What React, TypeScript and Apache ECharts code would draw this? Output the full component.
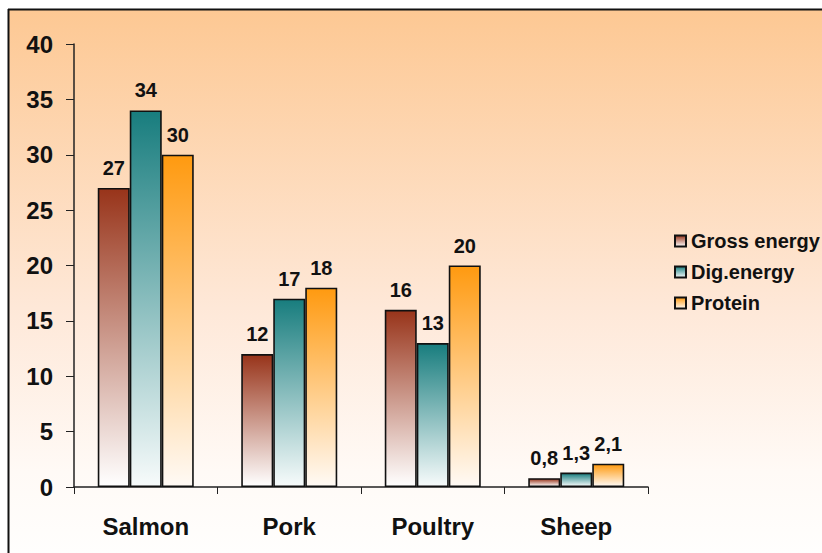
import React, { useEffect, useRef } from "react";
import * as echarts from "echarts";

const categories = ["Salmon", "Pork", "Poultry", "Sheep"];
const grossEnergy = [27, 12, 16, 0.8];
const digEnergy = [34, 17, 13, 1.3];
const protein = [30, 18, 20, 2.1];
const seriesNames = ["Gross energy", "Dig.energy", "Protein"];
const topColors = ["#98341a", "#187d7e", "#ff9a10"];
const bottomColors = ["#ffffff", "#f7fbfb", "#fffaf5"];

const FONT = "'Liberation Sans', Arial, sans-serif";

export default function App() {
  const ref = useRef<HTMLDivElement>(null);
  useEffect(() => {
    if (!ref.current) return;
    const chart = echarts.init(ref.current, undefined, { renderer: "svg" });
    const data = [grossEnergy, digEnergy, protein];
    const series = data.map((vals, i) => ({
      name: seriesNames[i],
      type: "bar",
      data: vals,
      barWidth: 32,
      barGap: "0%",
      itemStyle: {
        color: new echarts.graphic.LinearGradient(0, 0, 0, 1, [
          { offset: 0, color: topColors[i] },
          { offset: 1, color: bottomColors[i] },
        ]),
        borderColor: "#111",
        borderWidth: 1.6,
      },
      label: {
        show: true,
        position: "top",
        distance: 10,
        fontFamily: FONT,
        fontWeight: "bold",
        fontSize: 20,
        color: "#111",
        formatter: (p: any) => String(p.value).replace(".", ","),
      },
    }));
    chart.setOption({
      animation: false,
      textStyle: { fontFamily: FONT },
      graphic: [
        {
          type: "rect",
          z: -10,
          shape: { x: 8, y: 9, width: 814, height: 544 },
          style: {
            fill: new echarts.graphic.LinearGradient(0, 0, 0, 1, [
              { offset: 0, color: "#fdc893" },
              { offset: 0.55, color: "#fee8d8" },
              { offset: 0.85, color: "#fffaf6" },
              { offset: 1, color: "#fffefd" },
            ]),
          },
        },
        {
          type: "line",
          z: -9,
          shape: { x1: 8, y1: 9.5, x2: 822, y2: 9.5 },
          style: { stroke: "#111", lineWidth: 2 },
        },
        {
          type: "line",
          z: -9,
          shape: { x1: 8.5, y1: 9, x2: 8.5, y2: 553 },
          style: { stroke: "#111", lineWidth: 2 },
        },
      ],
      legend: {
        orient: "vertical",
        left: 669,
        top: 226,
        itemWidth: 11,
        itemHeight: 11,
        itemGap: 11,
        icon: "rect",
        textStyle: {
          fontFamily: FONT,
          fontWeight: "bold",
          fontSize: 20,
          color: "#111",
        },
        data: seriesNames,
      },
      grid: { left: 74, top: 44, right: 174, bottom: 66, containLabel: false },
      xAxis: {
        type: "category",
        data: categories,
        axisLine: { show: true, lineStyle: { color: "#222", width: 1.5 } },
        axisTick: { show: true, length: 7, alignWithLabel: false, lineStyle: { color: "#222" } },
        axisLabel: {
          margin: 27,
          fontFamily: FONT,
          fontWeight: "bold",
          fontSize: 24,
          color: "#111",
        },
        splitLine: { show: false },
      },
      yAxis: {
        type: "value",
        min: 0,
        max: 40,
        interval: 5,
        axisLine: { show: true, lineStyle: { color: "#222", width: 1.5 } },
        axisTick: { show: true, length: 8, lineStyle: { color: "#222" } },
        axisLabel: {
          margin: 21,
          fontFamily: FONT,
          fontWeight: "bold",
          fontSize: 24,
          color: "#111",
        },
        splitLine: { show: false },
      },
      series,
    });
    return () => chart.dispose();
  }, []);
  return (
    <div
      ref={ref}
      style={{ position: "absolute", left: 0, top: 0, width: 822, height: 553 }}
    />
  );
}
